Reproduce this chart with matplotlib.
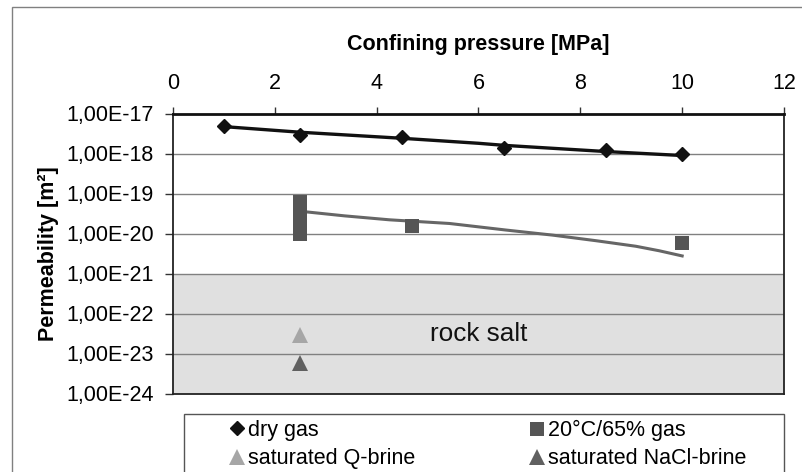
import matplotlib
matplotlib.use("Agg")
import matplotlib.pyplot as plt
from matplotlib.patches import Rectangle
from matplotlib.lines import Line2D
import matplotlib.ticker as mticker

plt.rcParams['font.family'] = ['Liberation Sans', 'DejaVu Sans']

# ---- data ----
dry_p = [1.0, 2.5, 4.5, 6.5, 8.5, 10.0]
dry_k = [4.9e-18, 2.9e-18, 2.6e-18, 1.4e-18, 1.2e-18, 1.0e-18]
dry_trend_p = [1.0, 2.5, 4.5, 6.0, 6.5, 8.5, 10.0]
dry_trend_k = [4.7e-18, 3.4e-18, 2.4e-18, 1.8e-18, 1.6e-18, 1.12e-18, 8.9e-19]

wet_p = [2.5, 2.5, 2.5, 2.5, 4.7, 10.0]
wet_k = [6.3e-20, 3.5e-20, 1.8e-20, 9.7e-21, 1.5e-20, 5.7e-21]
wet_trend_p = [2.5, 3.37, 4.25, 5.43, 6.54, 7.46, 8.31, 9.09, 9.55, 10.0]
wet_trend_k = [3.6e-20, 2.76e-20, 2.2e-20, 1.78e-20, 1.22e-20, 9.1e-21,
               6.6e-21, 4.8e-21, 3.7e-21, 2.75e-21]

qbrine_p = [2.5]
qbrine_k = [2.9e-23]
nacl_p = [2.5]
nacl_k = [5.7e-24]

rock_salt_range = [1e-24, 1e-21]
ytick_vals = [1e-24, 1e-23, 1e-22, 1e-21, 1e-20, 1e-19, 1e-18, 1e-17]
ytick_labels = ["1,00E-24", "1,00E-23", "1,00E-22", "1,00E-21",
                "1,00E-20", "1,00E-19", "1,00E-18", "1,00E-17"]
xtick_vals = [0, 2, 4, 6, 8, 10, 12]

FS = 15.5
W, H = 803, 472
fig = plt.figure(figsize=(W / 100, H / 100), dpi=100)

# outer chart border (cut off at right/bottom)
fig.add_artist(Rectangle((12 / W, -0.1), 1.2, 1 - 7 / H + 0.1,
                         transform=fig.transFigure, fill=False,
                         edgecolor='#808080', linewidth=1.0))

ax = fig.add_axes([173 / W, 1 - 393.5 / H, (784 - 173) / W, (393.5 - 113.5) / H])
ax.set_yscale('log')
ax.set_xlim(0, 12)
ax.set_ylim(1e-24, 1e-17)

# rock salt band
ax.axhspan(rock_salt_range[0], rock_salt_range[1], color='#e0e0e0', zorder=0, lw=0)

# grid
for yv in ytick_vals[1:-1]:
    ax.axhline(yv, color='#808080', lw=1.0, zorder=1)

# trend lines
ax.plot(dry_trend_p, dry_trend_k, color='#111111', lw=2.4, zorder=3)
ax.plot(wet_trend_p, wet_trend_k, color='#666666', lw=2.2, zorder=3)

# markers
ax.plot(dry_p, dry_k, linestyle='none', marker='D', markersize=7.5,
        color='#111111', zorder=4)
ax.plot(wet_p, wet_k, linestyle='none', marker='s', markersize=10.3,
        color='#555555', markeredgewidth=0, zorder=4)
ax.plot(qbrine_p, qbrine_k, linestyle='none', marker='^', markersize=12,
        color='#a6a6a6', markeredgewidth=0, zorder=4)
ax.plot(nacl_p, nacl_k, linestyle='none', marker='^', markersize=12,
        color='#606060', markeredgewidth=0, zorder=4)

ax.text(6.0, 3.1e-23, "rock salt", fontsize=18.8, ha='center', va='center', color='#111111')

# axes styling
ax.xaxis.tick_top()
ax.xaxis.set_label_position('top')
ax.set_xticks(xtick_vals)
ax.set_xticklabels([str(v) for v in xtick_vals], fontsize=FS)
ax.yaxis.set_major_locator(mticker.FixedLocator(ytick_vals))
ax.yaxis.set_major_formatter(mticker.FixedFormatter(ytick_labels))
ax.yaxis.set_minor_locator(mticker.NullLocator())
for lab in ax.get_yticklabels():
    lab.set_fontsize(FS)
ax.tick_params(axis='x', direction='out', length=5, width=1, pad=9, color='#333333')
ax.tick_params(axis='y', direction='out', length=6, width=1, pad=8, color='#333333')

ax.spines['top'].set_linewidth(2.0)
ax.spines['top'].set_color('#111111')
for s in ['left', 'right', 'bottom']:
    ax.spines[s].set_linewidth(1.3)
    ax.spines[s].set_color('#222222')

ax.set_xlabel("Confining pressure [MPa]", fontsize=FS, fontweight='bold')
ax.xaxis.set_label_coords(0.5, 1.226)
ax.set_ylabel("Permeability [m²]", fontsize=FS, fontweight='bold')
ax.yaxis.set_label_coords(-0.186, 0.5)

# legend box (cut off at bottom)
fig.add_artist(Rectangle((184 / W, -0.1), (784 - 184) / W, (472 - 414) / H + 0.1,
                         transform=fig.transFigure, fill=False,
                         edgecolor='#555555', linewidth=1.0))

h_dry = Line2D([], [], linestyle='none', marker='D', markersize=7.5, color='#111111')
h_q = Line2D([], [], linestyle='none', marker='^', markersize=12, color='#a6a6a6', markeredgewidth=0)
h_wet = Line2D([], [], linestyle='none', marker='s', markersize=10.3, color='#555555', markeredgewidth=0)
h_na = Line2D([], [], linestyle='none', marker='^', markersize=12, color='#606060', markeredgewidth=0)

leg_kw = dict(loc='upper left', frameon=False, fontsize=FS, handlelength=0.8,
              handletextpad=0.12, labelspacing=0.34, borderpad=0.0, borderaxespad=0.0)
fig.legend([h_dry, h_q], ["dry gas", "saturated Q-brine"],
           bbox_to_anchor=(228.5 / W, 1 - 420 / H), **leg_kw)
fig.legend([h_wet, h_na], ["20°C/65% gas", "saturated NaCl-brine"],
           bbox_to_anchor=(528.5 / W, 1 - 420 / H), **leg_kw)

fig.savefig("out.png", dpi=100)
